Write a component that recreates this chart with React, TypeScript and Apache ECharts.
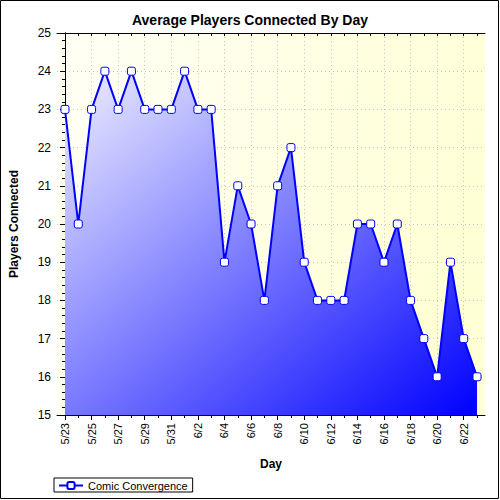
import React, { useEffect, useRef } from "react";
import * as echarts from "echarts";

const days = [
  "5/23", "5/24", "5/25", "5/26", "5/27", "5/28", "5/29", "5/30", "5/31",
  "6/1", "6/2", "6/3", "6/4", "6/5", "6/6", "6/7", "6/8", "6/9", "6/10",
  "6/11", "6/12", "6/13", "6/14", "6/15", "6/16", "6/17", "6/18", "6/19",
  "6/20", "6/21", "6/22", "6/23",
];
const players = [
  23, 20, 23, 24, 23, 24, 23, 23, 23, 24, 23, 23, 19, 21, 20, 18, 21, 22, 19,
  18, 18, 18, 20, 20, 19, 20, 18, 17, 16, 19, 17, 16,
];
const labelIdx = days.map((_, i) => i).filter((i) => i % 2 === 0);
const allIdx = days.map((_, i) => i);
const seriesName = "Comic Convergence";
const titleText = "Average Players Connected By Day";

const FONT = "Liberation Sans, Arial, sans-serif";

export default function App() {
  const ref = useRef<HTMLDivElement>(null);
  useEffect(() => {
    if (!ref.current) return;
    const chart = echarts.init(ref.current, undefined, { renderer: "svg" });
    const xRange = { min: -0.6, max: days.length - 1 + 0.6 };
    const yRange = { min: 15, max: 25, interval: 1 };
    const dotted = { show: true, lineStyle: { color: "#c4c4c4", type: [1, 3] as any, width: 1 } };
    chart.setOption({
      animation: false,
      backgroundColor: "#ffffff",
      textStyle: { fontFamily: FONT },
      title: {
        text: titleText,
        left: "center",
        top: 8,
        textStyle: { fontSize: 14, fontWeight: "bold", color: "#000", fontFamily: FONT },
      },
      legend: {
        left: 54,
        top: 478,
        orient: "horizontal",
        borderColor: "#000",
        borderWidth: 1,
        borderRadius: 0,
        padding: [2, 5, 1, 4],
        itemWidth: 24,
        itemHeight: 9,
        itemGap: 6,
        textStyle: { fontSize: 11, color: "#000", fontFamily: FONT },
        data: [seriesName],
      },
      grid: {
        left: 54,
        right: 15,
        top: 33,
        bottom: 85,
        show: true,
        borderWidth: 0,
        backgroundColor: {
          type: "linear",
          x: 0, y: 0, x2: 1, y2: 0.3,
          colorStops: [
            { offset: 0, color: "#fffff6" },
            { offset: 1, color: "#ffffd6" },
          ],
        },
      },
      xAxis: [
        {
          type: "value",
          ...xRange,
          position: "bottom",
          name: "Day",
          nameLocation: "middle",
          nameGap: 43,
          nameTextStyle: { fontSize: 12, fontWeight: "bold", color: "#000", fontFamily: FONT },
          axisLine: { show: true, lineStyle: { color: "#000", width: 1 } },
          axisTick: { show: true, length: 5, customValues: labelIdx, lineStyle: { color: "#000" } },
          axisLabel: {
            customValues: labelIdx,
            rotate: 90,
            fontSize: 11,
            color: "#000",
            margin: 8,
            fontFamily: FONT,
            formatter: (v: number) => days[Math.round(v)] ?? "",
          },
          splitLine: dotted,
        },
        {
          type: "value",
          ...xRange,
          position: "bottom",
          axisLine: { show: false },
          axisTick: { show: true, length: 3, customValues: allIdx, lineStyle: { color: "#000" } },
          axisLabel: { show: false },
          splitLine: { show: false },
        },
        {
          type: "value",
          ...xRange,
          position: "top",
          axisLine: { show: true, lineStyle: { color: "#000", width: 1 } },
          axisTick: { show: true, inside: true, length: 3, customValues: allIdx, lineStyle: { color: "#000" } },
          axisLabel: { show: false },
          splitLine: { show: false },
        },
      ],
      yAxis: [
        {
          type: "value",
          ...yRange,
          position: "left",
          name: "Players Connected",
          nameLocation: "middle",
          nameGap: 37,
          nameTextStyle: { fontSize: 12, fontWeight: "bold", color: "#000", fontFamily: FONT },
          axisLine: { show: true, lineStyle: { color: "#000", width: 1 } },
          axisTick: { show: true, length: 5, lineStyle: { color: "#000" } },
          minorTick: { show: true, splitNumber: 5, length: 3, lineStyle: { color: "#000" } },
          axisLabel: { fontSize: 12, color: "#000", margin: 6, fontFamily: FONT },
          splitLine: dotted,
        },
        {
          type: "value",
          ...yRange,
          position: "right",
          axisLine: { show: true, lineStyle: { color: "#000", width: 1 } },
          axisTick: { show: true, inside: true, length: 5, lineStyle: { color: "#000" } },
          minorTick: { show: true, splitNumber: 5, length: 3, lineStyle: { color: "#000" } },
          axisLabel: { show: false },
          splitLine: { show: false },
        },
      ],
      series: [
        {
          name: seriesName,
          type: "line",
          xAxisIndex: 0,
          yAxisIndex: 0,
          data: players.map((v, i) => [i, v]),
          symbol: "roundRect",
          symbolSize: 8,
          showAllSymbol: true,
          lineStyle: { color: "#0000ff", width: 2 },
          itemStyle: { color: "#ffffff", borderColor: "#0000ff", borderWidth: 1 },
          areaStyle: {
            origin: "start",
            opacity: 1,
            color: {
              type: "linear",
              x: 0, y: 0, x2: 1, y2: 1,
              colorStops: [
                { offset: 0, color: "#f0f0ff" },
                { offset: 1, color: "#0000ff" },
              ],
            },
          },
        },
      ],
      graphic: [
        {
          type: "rect",
          shape: { x: 0.5, y: 0.5, width: 498, height: 498 },
          style: { fill: "none", stroke: "#000", lineWidth: 1 },
          silent: true,
          z: 100,
        },
      ],
    });
    return () => chart.dispose();
  }, []);
  return (
    <div
      ref={ref}
      style={{ position: "absolute", left: 0, top: 0, width: 500, height: 500 }}
    />
  );
}
